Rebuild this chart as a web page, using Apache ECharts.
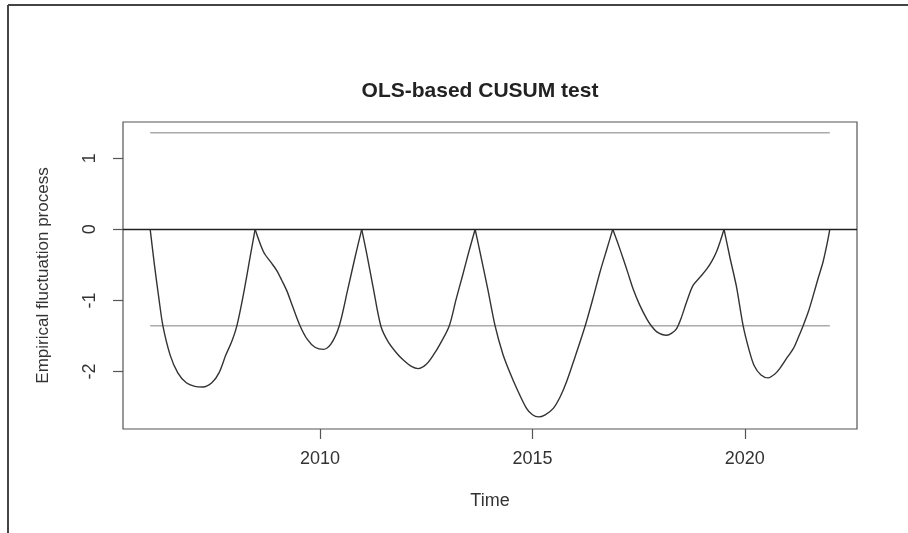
<!DOCTYPE html>
<html>
<head>
<meta charset="utf-8">
<script src="https://cdn.jsdelivr.net/npm/echarts@6/dist/echarts.min.js"></script>
<style>
html,body{margin:0;padding:0;background:#fff;}
#c{width:908px;height:533px;}
</style>
</head>
<body>
<div id="c"></div>
<script>
// Time (years) and empirical fluctuation process values
const times = [
  2006.00,2006.10,2006.20,2006.30,2006.47,2006.65,2006.85,2007.05,2007.24,2007.45,2007.62,2007.78,2007.92,2008.04,2008.20,2008.35,2008.47,
  2008.67,2008.85,2008.98,2009.10,2009.22,2009.35,2009.53,2009.70,2009.88,2010.08,2010.25,2010.45,2010.65,2010.82,2010.98,
  2011.10,2011.25,2011.43,2011.60,2011.80,2011.96,2012.15,2012.31,2012.50,2012.70,2012.82,2013.04,2013.20,2013.35,2013.50,2013.65,
  2013.80,2013.95,2014.12,2014.30,2014.47,2014.63,2014.86,2015.00,2015.14,2015.30,2015.49,2015.65,2015.80,2016.00,2016.24,2016.42,2016.59,2016.75,2016.89,
  2017.00,2017.14,2017.25,2017.37,2017.52,2017.69,2017.80,2017.92,2018.05,2018.16,2018.28,2018.39,2018.50,2018.63,2018.78,2018.95,2019.10,2019.22,2019.33,2019.42,2019.51,
  2019.65,2019.80,2019.96,2020.10,2020.22,2020.38,2020.55,2020.70,2020.82,2021.00,2021.14,2021.26,2021.37,2021.50,2021.61,2021.72,2021.84,2021.93,2022.00
];
const process = [
  0,-0.50,-0.95,-1.36,-1.77,-2.02,-2.16,-2.21,-2.22,-2.16,-2.02,-1.77,-1.58,-1.36,-0.90,-0.40,0,
  -0.32,-0.47,-0.58,-0.72,-0.87,-1.08,-1.36,-1.55,-1.66,-1.69,-1.62,-1.36,-0.85,-0.40,0,
  -0.35,-0.82,-1.36,-1.58,-1.74,-1.84,-1.93,-1.96,-1.90,-1.74,-1.62,-1.36,-0.99,-0.66,-0.32,0,
  -0.42,-0.85,-1.36,-1.75,-2.02,-2.24,-2.52,-2.61,-2.64,-2.61,-2.52,-2.36,-2.15,-1.80,-1.36,-0.98,-0.60,-0.28,0,
  -0.18,-0.42,-0.62,-0.84,-1.06,-1.26,-1.36,-1.44,-1.48,-1.49,-1.46,-1.40,-1.25,-1.02,-0.79,-0.67,-0.56,-0.45,-0.32,-0.17,0,
  -0.40,-0.80,-1.36,-1.70,-1.92,-2.05,-2.09,-2.04,-1.96,-1.80,-1.68,-1.52,-1.36,-1.15,-0.93,-0.70,-0.46,-0.22,0
];
const boundary = 1.358;          // 5% critical boundary
const boundaryStart = 2006;
const boundaryEnd = 2022;
const xTicks = [2010, 2015, 2020];
const yTicks = [-2, -1, 0, 1];
const titleText = 'OLS-based CUSUM test';
const xName = 'Time';
const yName = 'Empirical fluctuation process';

// split the process into arches between its zero touches (keeps the sharp cusps)
const pts = times.map((t, i) => [t, process[i]]);
const arches = [];
let cur = [pts[0]];
for (let i = 1; i < pts.length; i++) {
  cur.push(pts[i]);
  if (pts[i][1] === 0 && i < pts.length - 1) { arches.push(cur); cur = [pts[i]]; }
}
if (cur.length > 1) arches.push(cur);

const upper = [[boundaryStart, boundary], [boundaryEnd, boundary]];
const lower = [[boundaryStart, -boundary], [boundaryEnd, -boundary]];

const font = '"Liberation Sans", Arial, sans-serif';
const chart = echarts.init(document.getElementById('c'), null, {renderer: 'canvas'});

const series = [
  {type: 'line', data: upper, showSymbol: false, silent: true, lineStyle: {color: '#aaa', width: 1.6}},
  {type: 'line', data: lower, showSymbol: false, silent: true, lineStyle: {color: '#aaa', width: 1.6},
   markLine: {
     silent: true, symbol: ['none', 'none'], label: {show: false},
     lineStyle: {color: '#222', width: 1.3, type: 'solid'},
     data: [{yAxis: 0}]
   }}
];
arches.forEach(a => series.push({
  type: 'line', data: a, showSymbol: false, silent: true,
  smooth: 0.3,
  lineStyle: {color: '#333', width: 1.4}
}));

chart.setOption({
  animation: false,
  backgroundColor: '#fff',
  title: {
    text: titleText,
    left: 475, top: 76, textAlign: 'center',
    textStyle: {fontFamily: font, fontWeight: 'bold', fontSize: 21, color: '#222'}
  },
  grid: {
    left: 123, right: 51, top: 122, bottom: 104,
    show: true, borderColor: '#555', borderWidth: 1.2, backgroundColor: 'transparent'
  },
  xAxis: {
    type: 'value', min: 2005.36, max: 2022.64,
    name: xName, nameLocation: 'middle', nameGap: 63,
    nameTextStyle: {fontFamily: font, fontSize: 18, color: '#333'},
    axisLine: {show: false, onZero: false},
    splitLine: {show: false},
    axisTick: {show: true, inside: false, length: 10, customValues: xTicks, lineStyle: {color: '#555', width: 1.2}},
    axisLabel: {customValues: xTicks, margin: 21, fontFamily: font, fontSize: 18, color: '#333',
                formatter: v => String(v)}
  },
  yAxis: {
    type: 'value', min: -2.81, max: 1.51,
    name: yName, nameLocation: 'middle', nameGap: 71, nameRotate: 90,
    nameTextStyle: {fontFamily: font, fontSize: 17, color: '#333'},
    axisLine: {show: false, onZero: false},
    splitLine: {show: false},
    axisTick: {show: true, inside: false, length: 10, customValues: yTicks, lineStyle: {color: '#555', width: 1.2}},
    axisLabel: {customValues: yTicks, rotate: 90, margin: 24, fontFamily: font, fontSize: 18, color: '#333',
                formatter: v => String(v)}
  },
  graphic: [
    {type: 'line', shape: {x1: 8, y1: 5, x2: 908, y2: 5}, style: {stroke: '#444', lineWidth: 2}},
    {type: 'line', shape: {x1: 8, y1: 5, x2: 8, y2: 533}, style: {stroke: '#444', lineWidth: 2}}
  ],
  series: series
});
</script>
</body>
</html>
